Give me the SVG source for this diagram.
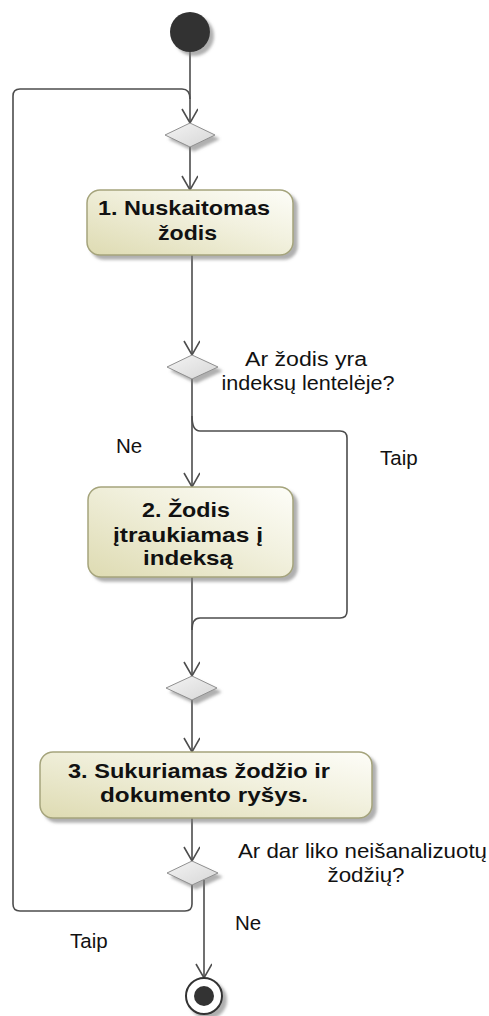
<svg xmlns="http://www.w3.org/2000/svg" width="489" height="1016" viewBox="0 0 489 1016">
  <defs>
    <linearGradient id="actGrad" x1="0" y1="1" x2="1" y2="0">
      <stop offset="0" stop-color="#dedbb2"/>
      <stop offset="0.6" stop-color="#f2f1df"/>
      <stop offset="1" stop-color="#fdfdf8"/>
    </linearGradient>
    <linearGradient id="decGrad" x1="0" y1="0" x2="1" y2="1">
      <stop offset="0" stop-color="#f4f4f4"/>
      <stop offset="1" stop-color="#d6d6d6"/>
    </linearGradient>
    <filter id="shadow" x="-20%" y="-20%" width="150%" height="150%">
      <feDropShadow dx="4" dy="4" stdDeviation="1.5" flood-color="#7a7a7a" flood-opacity="0.6"/>
    </filter>
    <marker id="arrow" markerUnits="userSpaceOnUse" markerWidth="18" markerHeight="18" refX="15" refY="8" orient="auto">
      <path d="M1,0 L15,8 L1,16" fill="none" stroke="#4d4d4d" stroke-width="1.6"/>
    </marker>
  </defs>
  <style>
    .edge { fill: none; stroke: #4d4d4d; stroke-width: 1.6; }
    .act { fill: url(#actGrad); stroke: #a5a47c; stroke-width: 1.5; filter: url(#shadow); }
    .dec { fill: url(#decGrad); stroke: #8f8f8f; stroke-width: 1; filter: url(#shadow); }
    .bold { font-family: "Liberation Sans", Arial, sans-serif; font-weight: bold; font-size: 21px; fill: #111; text-anchor: middle; }
    .lbl { font-family: "Liberation Sans", Arial, sans-serif; font-size: 20.5px; fill: #111; }
    .lblm { font-family: "Liberation Sans", Arial, sans-serif; font-size: 20.5px; fill: #111; text-anchor: middle; }
  </style>

  <g id="connectors">
    <!-- start to merge diamond -->
    <path class="edge" d="M190,52 V123" marker-end="url(#arrow)"/>
    <!-- merge diamond to activity 1 -->
    <path class="edge" d="M190,147 V190" marker-end="url(#arrow)"/>
    <!-- activity 1 to decision -->
    <path class="edge" d="M192,255 V355" marker-end="url(#arrow)"/>
    <!-- decision Ne to activity 2 -->
    <path class="edge" d="M192,379 V487" marker-end="url(#arrow)"/>
    <!-- decision Taip branch -->
    <path class="edge" d="M192,416 Q192,431 200,431 H340 Q347,431 347,438 V611 Q347,618 340,618 H200 Q192,618 192,630"/>
    <!-- activity 2 to merge diamond 3 -->
    <path class="edge" d="M192,577 V676" marker-end="url(#arrow)"/>
    <!-- merge 3 to activity 3 -->
    <path class="edge" d="M192,700 V752" marker-end="url(#arrow)"/>
    <!-- activity 3 to decision 4 -->
    <path class="edge" d="M192,818 V861" marker-end="url(#arrow)"/>
    <!-- loop Taip -->
    <path class="edge" d="M192,885 V904 Q192,911 185,911 H20 Q13,911 13,904 V96 Q13,89 20,89 H182 Q190,89 190,99"/>
    <!-- Ne to final -->
    <path class="edge" d="M204,880 V978" marker-end="url(#arrow)"/>
  </g>

  <g id="start">
    <circle cx="190" cy="32" r="20" fill="#333333" filter="url(#shadow)"/>
  </g>

  <g id="merge1">
    <polygon class="dec" points="165,135 190,123 215,135 190,147"/>
  </g>

  <g id="activity1">
    <rect class="act" x="87" y="190" width="206" height="65" rx="13" ry="13"/>
    <text class="bold" x="184" y="215" textLength="172" lengthAdjust="spacingAndGlyphs">1. Nuskaitomas</text>
    <text class="bold" x="187.5" y="240" textLength="59" lengthAdjust="spacingAndGlyphs">žodis</text>
  </g>

  <g id="decision1">
    <polygon class="dec" points="167,367 192,355 218,367 192,379"/>
    <text class="lblm" x="306" y="366" textLength="122" lengthAdjust="spacingAndGlyphs">Ar žodis yra</text>
    <text class="lblm" x="308" y="390" textLength="173" lengthAdjust="spacingAndGlyphs">indeksų lentelėje?</text>
    <text class="lbl" x="116" y="453">Ne</text>
    <text class="lbl" x="380" y="465">Taip</text>
  </g>

  <g id="activity2">
    <rect class="act" x="88" y="487" width="205" height="90" rx="13" ry="13"/>
    <text class="bold" x="186" y="517" textLength="88" lengthAdjust="spacingAndGlyphs">2. Žodis</text>
    <text class="bold" x="188" y="542" textLength="150" lengthAdjust="spacingAndGlyphs">įtraukiamas į</text>
    <text class="bold" x="188" y="565" textLength="90" lengthAdjust="spacingAndGlyphs">indeksą</text>
  </g>

  <g id="merge2">
    <polygon class="dec" points="166,688 192,676 217,688 192,700"/>
  </g>

  <g id="activity3">
    <rect class="act" x="40" y="752" width="332" height="66" rx="13" ry="13"/>
    <text class="bold" x="199" y="778" textLength="262" lengthAdjust="spacingAndGlyphs">3. Sukuriamas žodžio ir</text>
    <text class="bold" x="204" y="802" textLength="208" lengthAdjust="spacingAndGlyphs">dokumento ryšys.</text>
  </g>

  <g id="decision2">
    <polygon class="dec" points="167,873 192,861 218,873 192,885"/>
    <text class="lblm" x="362.5" y="858" textLength="249" lengthAdjust="spacingAndGlyphs">Ar dar liko neišanalizuotų</text>
    <text class="lblm" x="366" y="882" textLength="77" lengthAdjust="spacingAndGlyphs">žodžių?</text>
    <text class="lbl" x="235" y="930">Ne</text>
    <text class="lbl" x="70" y="948">Taip</text>
  </g>

  <g id="final">
    <circle cx="204" cy="996" r="18" fill="#ffffff" stroke="#333333" stroke-width="2" filter="url(#shadow)"/>
    <circle cx="204" cy="996" r="10" fill="#333333"/>
  </g>
</svg>
